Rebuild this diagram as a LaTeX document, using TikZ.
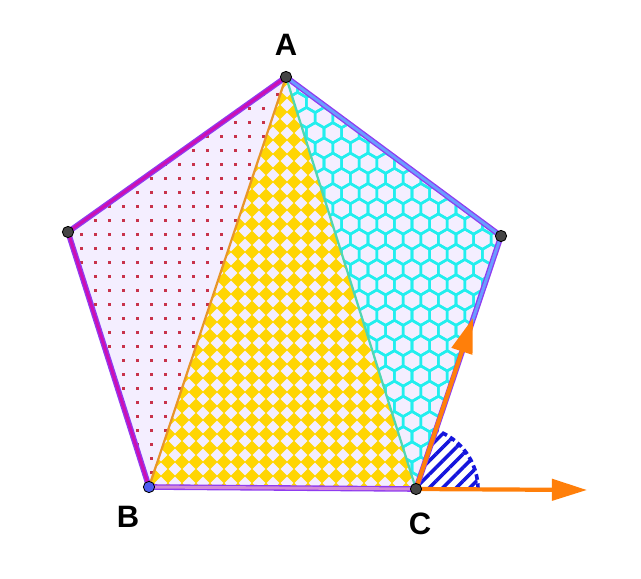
\documentclass[tikz,border=0pt]{standalone}
\usepackage{fontspec}
\setmainfont{Liberation Sans}
\usetikzlibrary{arrows.meta, patterns.meta}

\definecolor{lavender}{HTML}{F4EEFF}
\definecolor{rimviolet}{HTML}{8F3BF0}
\definecolor{edgemagenta}{HTML}{CC0FB4}
\definecolor{edgeblue}{HTML}{6A9CFF}
\definecolor{edgeorchid}{HTML}{D48AD8}
\definecolor{edgeorange}{HTML}{E8962A}
\definecolor{edgeaqua}{HTML}{4FD6B2}
\definecolor{dotred}{HTML}{C8324A}
\definecolor{chessyellow}{HTML}{FFD503}
\definecolor{hexcyan}{HTML}{22EEEE}
\definecolor{hatchblue}{HTML}{1515DD}
\definecolor{vecorange}{HTML}{FF7F0A}
\definecolor{vertexgray}{HTML}{454545}
\definecolor{vertexblue}{HTML}{4D5CF0}

\tikzstyle{vertex} = [
    circle,
    draw=black,
    fill=vertexgray,
    line width=0.6pt,
    inner sep=0pt,
    minimum size=8pt
]
\tikzstyle{vlabel} = [
    font=\fontsize{22}{26}\selectfont\bfseries
]
\tikzstyle{rim} = [draw=rimviolet, line width=4pt, line join=round]
\tikzstyle{core} = [line width=2.1pt, line join=round]
\tikzstyle{diagonal} = [line width=1.6pt]
\tikzstyle{honeycomb} = [draw=hexcyan, line width=1.8pt]
\tikzstyle{vector} = [draw=vecorange, line width=3pt, -{Triangle[length=25pt,width=15pt]}]

\begin{document}
\begin{tikzpicture}[x=0.025cm, y=-0.025cm]

\useasboundingbox (0,0) rectangle (641,579);

\coordinate (A) at (286,77);
\coordinate (D) at (501,236);
\coordinate (C) at (416,489);
\coordinate (B) at (149,487);
\coordinate (E) at (68,232);
\coordinate (U) at (473,318);
\coordinate (V) at (587,490);

% pentagon interior
\fill[lavender] (A) -- (D) -- (C) -- (B) -- (E) -- cycle;

% dots in ABE
\begin{scope}
\clip (A) -- (B) -- (E) -- cycle;
\foreach \i in {4,...,21}
  \foreach \j in {5,...,35}
    \fill[dotred] (14*\i+10,14*\j+9) rectangle +(2.5,2.5);
\end{scope}

% chessboard in ABC
\begin{scope}
\clip (A) -- (B) -- (C) -- cycle;
\foreach \i in {10,...,30}
  \foreach \j in {5,...,35}
    \fill[chessyellow] (14*\i,14*\j) +(-7.4,0) -- +(0,-7.4) -- +(7.4,0) -- +(0,7.4) -- cycle;
\end{scope}

% honeycomb in ACD
\begin{scope}
\clip (A) -- (C) -- (D) -- cycle;
\foreach \r in {0,...,28}{
  \foreach \c in {0,...,13}{
    \pgfmathsetmacro{\hx}{280+17.6*\c+8.8*mod(\r,2)}
    \pgfmathsetmacro{\hy}{72+15.2*\r}
    \draw[honeycomb] (\hx,\hy) +(30:10.15) -- +(90:10.15) -- +(150:10.15)
      -- +(210:10.15) -- +(270:10.15) -- +(330:10.15) -- cycle;
  }
}
\end{scope}

% angle at C
\fill[pattern={Lines[angle=45,distance=6.8pt,line width=2.5pt]}, pattern color=hatchblue]
  (C) -- ++(62,0) arc[start angle=0, end angle=-71.4, radius=62] -- cycle;
\draw[hatchblue, line width=2.6pt, dash pattern=on 4pt off 2.6pt]
  (C) ++(62,0) arc[start angle=0, end angle=-71.4, radius=62];

% sides
\draw[rim] (A) -- (D) -- (C) -- (B) -- (E) -- cycle;
\draw[core, edgemagenta] (A) -- (E) -- (B);
\draw[core, edgeblue] (A) -- (D) -- (C);
\draw[core, edgeorchid] (B) -- (C);
\draw[diagonal, edgeorange] (A) -- (B);
\draw[diagonal, edgeaqua] (A) -- (C);

% vectors
\draw[vector] (C) -- (U);
\draw[vector] (C) -- (V);

% points
\node (pA) [vertex] at (A) {};
\node (pD) [vertex] at (D) {};
\node (pE) [vertex] at (E) {};
\node (pC) [vertex] at (C) {};
\node (pB) [vertex, fill=vertexblue] at (B) {};

\node (labA) [vlabel] at (286,45) {A};
\node (labB) [vlabel] at (128,517) {B};
\node (labC) [vlabel] at (420,524) {C};

\end{tikzpicture}
\end{document}
